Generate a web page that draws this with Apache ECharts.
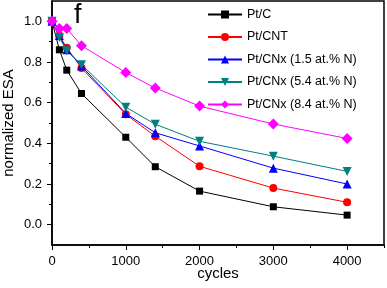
<!DOCTYPE html>
<html>
<head>
<meta charset="utf-8">
<script src="https://cdn.jsdelivr.net/npm/echarts@6/dist/echarts.min.js"></script>
<style>
  html, body { margin: 0; padding: 0; background: #fff; }
  #chart { width: 387px; height: 288px; }
</style>
</head>
<body>
<div id="chart"></div>
<script>
// cycles at which ESA was measured
const cycles = [0, 100, 200, 400, 1000, 1400, 2000, 3000, 4000];
// normalized ESA per catalyst
const ptC = [1.0, 0.86, 0.76, 0.645, 0.43, 0.285, 0.165, 0.088, 0.047];
const ptCNT = [1.0, 0.93, 0.87, 0.77, 0.543, 0.435, 0.287, 0.18, 0.11];
const ptCNx15 = [1.0, 0.93, 0.86, 0.78, 0.547, 0.452, 0.387, 0.278, 0.2];
const ptCNx54 = [1.0, 0.92, 0.855, 0.787, 0.578, 0.494, 0.41, 0.337, 0.262];
const ptCNx84 = [1.0, 0.965, 0.965, 0.88, 0.748, 0.672, 0.583, 0.495, 0.424];

const xMajor = [0, 1000, 2000, 3000, 4000];
const xMinor = [500, 1500, 2500, 3500, 4500];
const yMajor = [0, 0.2, 0.4, 0.6, 0.8, 1.0];
const yMinor = [0.1, 0.3, 0.5, 0.7, 0.9];

const font = "Liberation Sans";
const chart = echarts.init(document.getElementById("chart"));

function pairs(vals) {
  return cycles.map((c, i) => [c, vals[i]]);
}

function line(name, vals, color, symbol, size, rotate) {
  return {
    name: name,
    type: "line",
    xAxisIndex: 0,
    yAxisIndex: 0,
    data: pairs(vals),
    symbol: symbol,
    symbolSize: size,
    symbolRotate: rotate || 0,
    showAllSymbol: true,
    lineStyle: { color: color, width: 1 },
    itemStyle: { color: color, borderWidth: 0 },
    emphasis: { disabled: true },
    animation: false,
  };
}

const option = {
  backgroundColor: "#fff",
  animation: false,
  textStyle: { fontFamily: font },
  title: {
    text: "f",
    left: 69,
    top: -3,
    textStyle: { fontFamily: font, fontSize: 27, fontWeight: "normal", color: "#000" },
  },
  grid: {
    left: 52,
    right: 3,
    top: 1,
    bottom: 43,
    outerBoundsMode: "none",
    show: true,
    borderColor: "#000",
    borderWidth: 1.5,
  },
  legend: {
    orient: "vertical",
    left: 202,
    top: 3,
    itemWidth: 34,
    itemHeight: 10,
    itemGap: 9.5,
    textStyle: { fontFamily: font, fontSize: 12.5, color: "#000" },
    data: ["Pt/C", "Pt/CNT", "Pt/CNx (1.5 at.% N)", "Pt/CNx (5.4 at.% N)", "Pt/CNx (8.4 at.% N)"],
  },
  xAxis: [
    {
      type: "value",
      min: 0,
      max: 4500,
      interval: 500,
      name: "cycles",
      nameLocation: "middle",
      nameGap: 21,
      nameMoveOverlap: false,
      nameTextStyle: { fontFamily: font, fontSize: 15, color: "#000" },
      axisLine: { show: true, onZero: false, lineStyle: { color: "#000", width: 1.5 } },
      axisTick: { show: true, customValues: xMajor, length: 5, lineStyle: { color: "#000", width: 1 } },
      axisLabel: {
        customValues: xMajor,
        margin: 10,
        fontFamily: font,
        fontSize: 13,
        color: "#000",
        formatter: (v) => String(v),
      },
      splitLine: { show: false },
    },
    {
      type: "value",
      position: "bottom",
      min: 0,
      max: 4500,
      interval: 500,
      axisLine: { show: false, onZero: false },
      axisTick: { show: true, customValues: xMinor, length: 3, lineStyle: { color: "#000", width: 1 } },
      axisLabel: { show: false },
      splitLine: { show: false },
    },
  ],
  yAxis: [
    {
      type: "value",
      min: -0.1,
      max: 1.1,
      interval: 0.1,
      name: "normalized ESA",
      nameLocation: "middle",
      nameGap: 36,
      nameMoveOverlap: false,
      nameTextStyle: { fontFamily: font, fontSize: 15, color: "#000" },
      axisLine: { show: true, onZero: false, lineStyle: { color: "#000", width: 1.5 } },
      axisTick: { show: true, customValues: yMajor, length: 5, lineStyle: { color: "#000", width: 1 } },
      axisLabel: {
        customValues: yMajor,
        margin: 10,
        fontFamily: font,
        fontSize: 13,
        color: "#000",
        formatter: (v) => v.toFixed(1),
      },
      splitLine: { show: false },
    },
    {
      type: "value",
      position: "left",
      min: -0.1,
      max: 1.1,
      interval: 0.1,
      axisLine: { show: false, onZero: false },
      axisTick: { show: true, customValues: yMinor, length: 3, lineStyle: { color: "#000", width: 1 } },
      axisLabel: { show: false },
      splitLine: { show: false },
    },
  ],
  series: [
    line("Pt/C", ptC, "#000000", "rect", 7),
    line("Pt/CNT", ptCNT, "#ff0000", "circle", 8),
    line("Pt/CNx (1.5 at.% N)", ptCNx15, "#0000ff", "triangle", 9),
    line("Pt/CNx (5.4 at.% N)", ptCNx54, "#008080", "triangle", 9, 180),
    line("Pt/CNx (8.4 at.% N)", ptCNx84, "#ff00ff", "diamond", 11),
  ],
};

chart.setOption(option);
</script>
</body>
</html>
